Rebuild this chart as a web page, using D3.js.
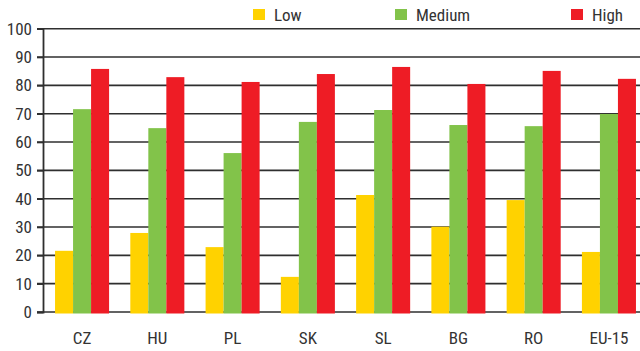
<!DOCTYPE html>
<html>
<head>
<meta charset="utf-8">
<script src="https://cdn.jsdelivr.net/npm/d3@7"></script>
<style>
  html, body { margin: 0; padding: 0; background: #fff; }
  svg { display: block; }
  text { font-family: "Liberation Sans Narrow", "Arial Narrow", "Roboto Condensed", "Liberation Sans", sans-serif; fill: #333; }
</style>
</head>
<body>
<svg id="chart" width="640" height="351"></svg>
<script>
// Countries / regions along the x axis
const categories = ["CZ", "HU", "PL", "SK", "SL", "BG", "RO", "EU-15"];
// Series names and their values (%)
const seriesNames = ["Low", "Medium", "High"];
const lowValues    = [21.6, 27.9, 22.9, 12.4, 41.3, 30.1, 39.5, 21.2];
const mediumValues = [71.6, 64.9, 56.1, 67.1, 71.3, 66.0, 65.6, 69.9];
const highValues   = [85.8, 82.9, 81.2, 84.0, 86.5, 80.5, 85.1, 82.3];
const yTicks = [0, 10, 20, 30, 40, 50, 60, 70, 80, 90, 100];

const colors = { Low: "#FFD200", Medium: "#82C34A", High: "#EE1C25" };
const seriesValues = { Low: lowValues, Medium: mediumValues, High: highValues };

const svg = d3.select("#chart");
const plotLeft = 43, plotRight = 648, plotTop = 28.7, plotBottom = 312;

const x = d3.scaleBand().domain(categories).range([plotLeft, plotRight])
  .paddingInner(0.282).paddingOuter(0.16);
const xs = d3.scaleBand().domain(seriesNames).range([0, x.bandwidth()]);
const y = d3.scaleLinear().domain([0, 100]).range([plotBottom, plotTop]);

// Horizontal gridlines
svg.append("g").selectAll("line").data(yTicks).join("line")
  .attr("x1", plotLeft - 6).attr("x2", 640)
  .attr("y1", d => y(d)).attr("y2", d => y(d))
  .attr("stroke", "#2f2f2f").attr("stroke-width", 1.6);

// Bars
const groups = svg.append("g").selectAll("g").data(categories).join("g")
  .attr("transform", d => `translate(${x(d)},0)`);
groups.selectAll("rect")
  .data((c, i) => seriesNames.map(s => ({ s, v: seriesValues[s][i] })))
  .join("rect")
  .attr("x", d => xs(d.s))
  .attr("width", xs.bandwidth())
  .attr("y", d => y(d.v))
  .attr("height", d => y(0) - y(d.v) + 1.5)
  .attr("fill", d => colors[d.s]);

// Y axis
const yAxis = d3.axisLeft(y).tickValues(yTicks).tickSize(6).tickPadding(5);
const ya = svg.append("g").attr("transform", `translate(${plotLeft},0)`).call(yAxis);
ya.select(".domain").attr("stroke", "#2f2f2f").attr("stroke-width", 1.8);
ya.selectAll(".tick line").attr("stroke", "#2f2f2f").attr("stroke-width", 1.6);
ya.selectAll(".tick text").style("font-size", "17px").attr("fill", "#333");

// X axis labels
const xAxis = d3.axisBottom(x).tickSize(0).tickPadding(20);
const xa = svg.append("g").attr("transform", `translate(0,${plotBottom})`).call(xAxis);
xa.select(".domain").remove();
xa.selectAll(".tick text").style("font-size", "17px").attr("fill", "#333");

// Legend
const legendX = [253, 395, 571];
const legend = svg.append("g").selectAll("g").data(seriesNames).join("g")
  .attr("transform", (d, i) => `translate(${legendX[i]},9)`);
legend.append("rect").attr("width", 12).attr("height", 11)
  .attr("fill", d => colors[d]);
legend.append("text").attr("x", 21).attr("y", 11.5)
  .style("font-size", "17px").text(d => d);
</script>
</body>
</html>
